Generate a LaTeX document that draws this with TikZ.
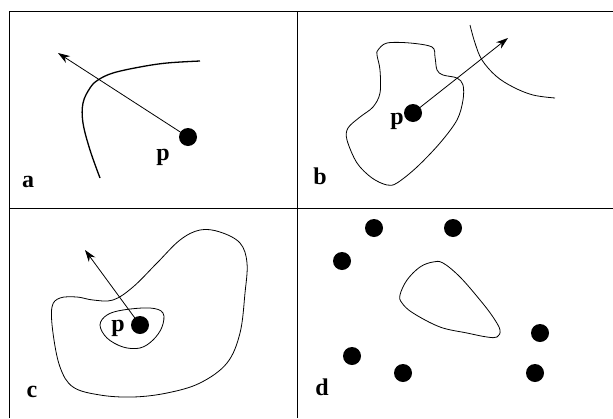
\documentclass[tikz,border=0pt]{standalone}
\usepackage{fontspec}
\setmainfont{Liberation Serif}
\usetikzlibrary{arrows.meta}
\begin{document}
\begin{tikzpicture}[x=1pt,y=-1pt,
  frame/.style={line width=1pt},
  dot/.style={circle,fill=black,inner sep=0pt,minimum size=18pt},
  arr/.style={line width=0.8pt,-{Stealth[length=12pt,width=8pt]}},
  blob/.style={line width=0.8pt},
  lbl/.style={font=\fontsize{24}{24}\selectfont\bfseries,inner sep=0pt}]
\useasboundingbox (0,0) rectangle (613,418);
% frame
\draw[frame] (9,418) -- (9,11) -- (613,11);
\draw[frame] (297,11) -- (297,418);
\draw[frame] (9,208) -- (613,208);
% panel a
\node[dot] (pa) at (188,137) {};
\coordinate (ta) at (58,53);
\draw[line width=1.3pt] plot[smooth,tension=0.6] coordinates {(100,178) (90,150) (83,123) (83,103) (90,88) (98,80) (113,73) (140,67) (167,63) (200,61)};
\draw[arr] (pa.center) -- (ta);
\node[lbl] (la) at (163,157) {p};
\node[lbl] (a) at (28,182) {a};
% panel b
\draw[blob] plot[smooth cycle,tension=0.55] coordinates {(378,50) (387,43) (410,43) (432,47) (435,57) (437,70) (443,75) (457,78) (463,85) (463,100) (457,120) (440,143) (417,167) (397,183) (387,185) (372,178) (357,163) (347,140) (348,128) (360,117) (373,107) (380,93) (380,70) (377,55)};
\draw[blob] plot[smooth,tension=0.6] coordinates {(470,25) (475,43) (482,60) (496,76) (513,87) (533,95) (555,98)};
\node[dot] (pb) at (413,113) {};
\coordinate (tb) at (508,38);
\draw[arr] (pb.center) -- (tb);
\node[lbl] (lpb) at (397,121) {p};
\node[lbl] (b) at (320,176) {b};
% panel c
\draw[blob] plot[smooth cycle,tension=0.6] coordinates {(52,307) (60,298) (77,297) (93,300) (113,300) (133,287) (157,263) (180,240) (200,230) (220,232) (240,243) (247,263) (245,293) (240,333) (227,363) (200,383) (167,393) (133,397) (100,395) (73,387) (60,367) (53,333)};
\draw[blob] plot[smooth cycle,tension=0.6] coordinates {(100,325) (107,315) (123,310) (150,308) (163,313) (162,327) (153,340) (140,348) (123,347) (107,338)};
\node[dot] (pc) at (140,325) {};
\coordinate (tc) at (85,250);
\draw[arr] (pc.center) -- (tc);
\node[lbl] (lpc) at (118,328) {p};
\node[lbl] (c) at (32,392) {c};
% panel d
\draw[blob] plot[smooth cycle,tension=0.6] coordinates {(400,295) (407,280) (420,267) (433,262) (443,263) (460,277) (480,300) (493,317) (500,330) (497,337) (487,337) (467,333) (440,327) (413,313) (402,303)};
\node[dot] (d1) at (374,228) {};
\node[dot] (d2) at (453,228) {};
\node[dot] (d3) at (342,261) {};
\node[dot] (d4) at (540,333) {};
\node[dot] (d5) at (352,356) {};
\node[dot] (d6) at (403,373) {};
\node[dot] (d7) at (535,373) {};
\node[lbl] (d) at (322,387) {d};
\end{tikzpicture}
\end{document}
